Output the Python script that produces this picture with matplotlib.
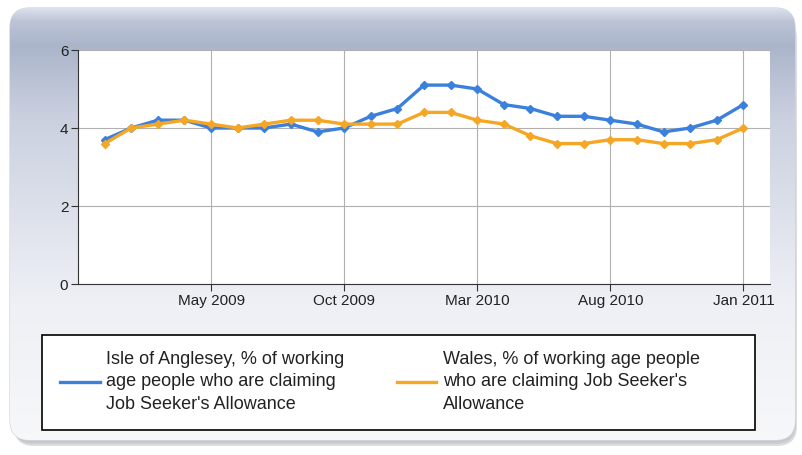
import numpy as np
import matplotlib
matplotlib.use('Agg')
import matplotlib.pyplot as plt
from matplotlib.patches import FancyBboxPatch, Rectangle

plt.rcParams['font.family'] = ['Liberation Sans', 'DejaVu Sans']

# monthly values, Jan 2009 .. Jan 2011
months = ['Jan 2009', 'Feb 2009', 'Mar 2009', 'Apr 2009', 'May 2009', 'Jun 2009',
          'Jul 2009', 'Aug 2009', 'Sep 2009', 'Oct 2009', 'Nov 2009', 'Dec 2009',
          'Jan 2010', 'Feb 2010', 'Mar 2010', 'Apr 2010', 'May 2010', 'Jun 2010',
          'Jul 2010', 'Aug 2010', 'Sep 2010', 'Oct 2010', 'Nov 2010', 'Dec 2010',
          'Jan 2011']
anglesey = [3.7, 4.0, 4.2, 4.2, 4.0, 4.0, 4.0, 4.1, 3.9, 4.0, 4.3, 4.5,
            5.1, 5.1, 5.0, 4.6, 4.5, 4.3, 4.3, 4.2, 4.1, 3.9, 4.0, 4.2, 4.6]
wales = [3.6, 4.0, 4.1, 4.2, 4.1, 4.0, 4.1, 4.2, 4.2, 4.1, 4.1, 4.1,
         4.4, 4.4, 4.2, 4.1, 3.8, 3.6, 3.6, 3.7, 3.7, 3.6, 3.6, 3.7, 4.0]
tick_labels = ['May 2009', 'Oct 2009', 'Mar 2010', 'Aug 2010', 'Jan 2011']
y_ticks = [0, 2, 4, 6]

label_a = "Isle of Anglesey, % of working\nage people who are claiming\nJob Seeker's Allowance"
label_w = "Wales, % of working age people\nwho are claiming Job Seeker's\nAllowance"

W, H = 802, 455
fig = plt.figure(figsize=(W / 100, H / 100), dpi=100)
fig.patch.set_facecolor('white')

# background panel with gradient and shadow
bg = fig.add_axes([0, 0, 1, 1], zorder=-5)
bg.set_xlim(0, W)
bg.set_ylim(H, 0)
bg.axis('off')
for i, a in enumerate([0.15, 0.25, 0.35]):
    bg.add_patch(FancyBboxPatch((12 + i, 14 + 2 * i), 783, 428, boxstyle='round,pad=0,rounding_size=20',
                                fc='#9a9ea6', ec='none', alpha=a))
panel = FancyBboxPatch((10, 8), 785, 432, boxstyle='round,pad=0,rounding_size=20',
                       fc='none', ec='#d4d8e0', lw=1)
bg.add_patch(panel)
ys = np.linspace(8, 440, 300)[:, None]
stops_y = [8, 20, 45, 120, 300, 440]
stops_c = np.array([[0.86, 0.88, 0.93],
                    [0.74, 0.77, 0.84],
                    [0.67, 0.71, 0.79],
                    [0.80, 0.82, 0.88],
                    [0.93, 0.94, 0.96],
                    [0.97, 0.97, 0.98]])
col = np.stack([np.interp(ys[:, 0], stops_y, stops_c[:, k]) for k in range(3)], axis=1)
img = bg.imshow(np.repeat(col[:, None, :], 2, axis=1), extent=(10, 795, 440, 8),
                aspect='auto', zorder=1)
img.set_clip_path(panel)

# legend box
bg.add_patch(Rectangle((42, 335), 713, 95, fc='white', ec='black', lw=1.2, zorder=3))

# chart
ax = fig.add_axes([78 / W, 1 - 284 / H, (770 - 78) / W, (284 - 50) / H])
x = np.arange(len(months))
ax.plot(x, anglesey, color='#3a80dc', lw=2.4, marker='D', ms=4, label=label_a)
ax.plot(x, wales, color='#f4a624', lw=2.4, marker='D', ms=4, label=label_w)

ax.set_xlim(-1, len(months))
ax.set_ylim(0, 6)
ax.set_yticks(y_ticks)
ax.set_xticks([months.index(t) for t in tick_labels])
ax.set_xticklabels(tick_labels)
ax.grid(True, color='#b0b0b0', lw=0.8)
ax.set_axisbelow(True)
for s in ['top', 'right']:
    ax.spines[s].set_visible(False)
ax.spines['left'].set_color('#333333')
ax.spines['bottom'].set_color('#333333')
ax.tick_params(axis='both', direction='out', length=5, labelsize=11, color='#333333',
               labelcolor='#222222', pad=2)

leg = fig.legend(loc='center left', bbox_to_anchor=(60 / W, 1 - 382 / H),
                 ncol=2, fontsize=13, frameon=False, handlelength=2.2,
                 handletextpad=0.35, columnspacing=2.9, borderpad=0, borderaxespad=0)
for h in leg.legend_handles:
    h.set_marker('')
for t in leg.get_texts():
    t.set_color('#222222')
    t.set_linespacing(1.4)

fig.savefig('out.png', dpi=100)
